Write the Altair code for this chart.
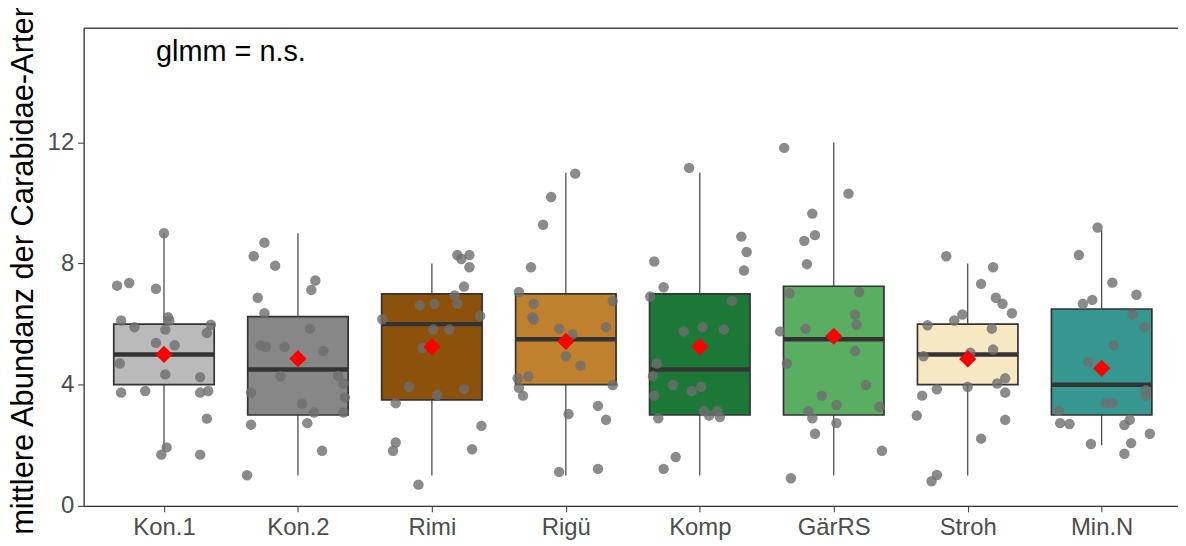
import altair as alt
import pandas as pd

groups = ["Kon.1", "Kon.2", "Rimi", "Rigü", "Komp", "GärRS", "Stroh", "Min.N"]
fills = ["#bababa", "#878787", "#8c510a", "#bf812d", "#1b7837", "#5aae61", "#f6e8c3", "#35978f"]

q1 = [4.0, 3.0, 3.5, 4.0, 3.0, 3.0, 4.0, 3.0]
median = [5.0, 4.5, 6.0, 5.5, 4.5, 5.5, 5.0, 4.0]
q3 = [6.0, 6.25, 7.0, 7.0, 7.0, 7.25, 6.0, 6.5]
whisker_lo = [1.85, 1.0, 1.0, 1.0, 1.0, 1.0, 1.0, 2.0]
whisker_hi = [9.0, 9.0, 8.0, 11.0, 11.0, 12.0, 8.0, 9.1]
means = [5.0, 4.86, 5.25, 5.43, 5.25, 5.6, 4.85, 4.54]

# observed values (y) and their horizontal jitter (in category units)
values_y = {
    "Kon.1": [9.0, 7.27, 7.36, 7.17, 6.12, 5.9, 6.23, 6.12, 5.82, 5.98, 5.71, 5.38, 5.3, 4.7, 4.34, 4.25,
              3.74, 3.79, 3.74, 3.79, 2.88, 1.93, 1.69, 1.69],
    "Kon.2": [8.69, 8.24, 7.93, 7.44, 7.13, 6.87, 6.36, 5.85, 5.3, 5.25, 5.25, 5.11, 4.28, 4.29, 4.04, 3.74,
              3.58, 3.37, 3.08, 3.08, 2.68, 2.73, 1.82, 1.01],
    "Rimi": [8.28, 8.15, 8.28, 7.88, 7.24, 6.95, 6.62, 6.67, 6.67, 6.16, 5.82, 5.82, 5.21, 3.93, 3.66, 3.85,
             3.39, 2.09, 1.82, 1.87, 0.7, 6.27, 2.64],
    "Rigü": [10.97, 10.2, 9.28, 7.88, 7.06, 6.67, 6.76, 6.23, 6.15, 5.9, 5.85, 5.66, 4.94, 4.63, 4.28, 4.21,
             3.9, 3.64, 3.99, 3.03, 3.3, 2.84, 1.12, 1.22],
    "Komp": [11.16, 8.89, 8.38, 7.77, 8.07, 7.22, 6.91, 6.76, 5.76, 5.9, 5.82, 4.7, 4.28, 3.99, 3.79, 3.93,
             3.64, 3.13, 2.98, 3.13, 2.93, 2.89, 1.61, 1.22],
    "GärRS": [11.82, 10.31, 9.65, 8.94, 8.75, 7.98, 7.02, 7.06, 5.76, 5.85, 6.32, 5.98, 5.11, 4.7, 3.64, 3.33,
              3.13, 2.89, 2.73, 2.38, 0.91, 3.99, 3.27, 1.82],
    "Stroh": [8.24, 7.88, 7.33, 6.87, 6.67, 6.36, 6.32, 6.12, 5.96, 5.85, 5.16, 5.06, 4.94, 4.21, 4.04, 3.93,
              3.85, 3.74, 3.64, 2.98, 2.84, 2.22, 1.02, 0.81],
    "Min.N": [9.19, 8.28, 7.37, 6.97, 6.67, 6.8, 6.31, 5.9, 5.3, 4.75, 3.82, 3.63, 3.39, 3.39, 3.14, 2.73,
              2.7, 2.84, 2.67, 2.38, 2.04, 2.07, 1.72],
}
jitter_x = {
    "Kon.1": [0.0, -0.35, -0.26, -0.06, -0.32, -0.22, 0.03, 0.04, 0.01, 0.35, 0.32, -0.06, 0.08, -0.33, 0.01,
              0.27, -0.32, -0.14, 0.27, 0.33, 0.32, 0.02, -0.02, 0.27],
    "Kon.2": [-0.25, -0.33, -0.17, 0.13, 0.10, -0.30, -0.25, 0.09, -0.28, -0.24, -0.10, 0.19, -0.13, 0.30,
              0.34, -0.35, 0.35, 0.03, 0.12, 0.34, -0.35, 0.07, 0.18, -0.38],
    "Rimi": [0.19, 0.22, 0.28, 0.28, 0.24, 0.17, -0.09, 0.02, 0.19, -0.37, 0.01, 0.13, -0.07, -0.17, 0.04,
             0.24, -0.27, -0.27, -0.29, 0.30, -0.10, 0.36, 0.37],
    "Rigü": [0.07, -0.11, -0.17, -0.26, -0.35, -0.24, 0.35, -0.25, -0.24, 0.30, -0.05, 0.05, 0.0, 0.11,
             -0.28, -0.36, -0.35, -0.32, 0.35, 0.02, 0.24, 0.30, -0.05, 0.24],
    "Komp": [-0.08, 0.31, 0.35, 0.33, -0.34, -0.27, -0.37, 0.24, -0.12, 0.02, 0.18, -0.32, -0.35, -0.20,
             -0.06, 0.01, -0.34, 0.03, 0.07, 0.13, 0.15, -0.31, -0.18, -0.27],
    "GärRS": [-0.37, 0.11, -0.16, -0.14, -0.22, -0.20, -0.33, 0.19, -0.40, -0.21, 0.16, 0.17, 0.16, -0.35,
              -0.09, 0.02, -0.19, -0.16, 0.02, -0.14, -0.32, 0.24, 0.34, 0.36],
    "Stroh": [-0.16, 0.19, 0.10, 0.21, 0.26, 0.33, -0.04, -0.10, -0.30, 0.18, 0.19, 0.02, -0.33, 0.28,
              0.22, 0.0, -0.23, 0.28, -0.34, -0.38, 0.28, 0.10, -0.23, -0.27],
    "Min.N": [-0.03, -0.17, 0.08, 0.26, -0.14, -0.07, 0.23, 0.32, 0.09, -0.10, 0.33, 0.33, 0.03, 0.08,
              -0.32, -0.31, -0.24, 0.21, 0.17, 0.36, -0.08, 0.22, 0.17],
}

y_title = "mittlere Abundanz der Carabidae-Arten"
note_text = "glmm = n.s."
note_x = 1.5
note_y = 15.0

box_df = pd.DataFrame({
    "group": groups, "pos": list(range(1, len(groups) + 1)), "fill": fills,
    "q1": q1, "median": median, "q3": q3, "lo": whisker_lo, "hi": whisker_hi, "mean": means,
})
pts_rows = []
for i, g in enumerate(groups):
    for dx, v in zip(jitter_x[g], values_y[g]):
        pts_rows.append({"group": g, "xj": i + 1 + dx, "value": v})
pts_df = pd.DataFrame(pts_rows)
note_df = pd.DataFrame({"x": [note_x], "y": [note_y], "text": [note_text]})

W, H = 1100, 480
label_expr = "[" + ",".join("'" + g + "'" for g in groups) + "][datum.value - 1]"

xscale = alt.Scale(domain=[0.4, 8.57], nice=False, zero=False)
yscale = alt.Scale(domain=[0, 15.77], nice=False, zero=False)

xaxis = alt.Axis(values=list(range(1, len(groups) + 1)), labelExpr=label_expr, title=None, grid=False,
                 labelFontSize=24, labelColor="#4d4d4d", labelFont="Liberation Sans", labelPadding=4,
                 tickSize=6, tickColor="#333333", domainColor="#333333", domainWidth=1.3, labelFlush=False)
yaxis = alt.Axis(values=[0, 4, 8, 12], title=y_title, grid=False, labelFontSize=24, labelColor="#4d4d4d",
                 labelFont="Liberation Sans", labelPadding=4, tickSize=6, tickColor="#333333",
                 domainColor="#333333", domainWidth=1.3, titleFontSize=31, titleFont="Liberation Sans",
                 titleFontWeight="normal", titleColor="#000000", titlePadding=8)

base = alt.Chart(box_df)

whisk_lo_l = base.mark_rule(color="#4d4d4d", strokeWidth=1.3).encode(
    x=alt.X("pos:Q", scale=xscale, axis=xaxis),
    y=alt.Y("lo:Q", scale=yscale, axis=yaxis),
    y2="q1:Q",
)
whisk_hi_l = base.mark_rule(color="#4d4d4d", strokeWidth=1.3).encode(
    x=alt.X("pos:Q", scale=xscale), y=alt.Y("q3:Q", scale=yscale), y2="hi:Q",
)
boxes = base.transform_calculate(xa="datum.pos - 0.375", xb="datum.pos + 0.375").mark_rect(
    stroke="#333333", strokeWidth=1.7
).encode(
    x=alt.X("xa:Q", scale=xscale), x2="xb:Q",
    y=alt.Y("q1:Q", scale=yscale), y2="q3:Q",
    fill=alt.Fill("fill:N", scale=None),
)
med = base.transform_calculate(xa="datum.pos - 0.375", xb="datum.pos + 0.375").mark_rule(
    color="#333333", strokeWidth=4.5
).encode(
    x=alt.X("xa:Q", scale=xscale), x2="xb:Q", y=alt.Y("median:Q", scale=yscale),
)
points = alt.Chart(pts_df).mark_circle(size=110, color="#6e6e6e", opacity=0.8).encode(
    x=alt.X("xj:Q", scale=xscale), y=alt.Y("value:Q", scale=yscale),
)
mean_pts = base.mark_point(shape="diamond", size=300, filled=True, color="#ff0000", opacity=1).encode(
    x=alt.X("pos:Q", scale=xscale), y=alt.Y("mean:Q", scale=yscale),
)
note = alt.Chart(note_df).mark_text(fontSize=29, font="Liberation Sans", color="#000000",
                                    align="center", baseline="middle").encode(
    x=alt.X("x:Q", scale=xscale), y=alt.Y("y:Q", scale=yscale), text="text:N",
)
top_border = alt.Chart(note_df).mark_rule(color="#4d4d4d", strokeWidth=1.5).encode(
    x=alt.value(0), x2=alt.value(W), y=alt.value(0),
)

chart = alt.layer(whisk_lo_l, whisk_hi_l, boxes, med, points, mean_pts, note, top_border).properties(
    width=W, height=H,
    autosize=alt.AutoSizeParams(type="none"),
    padding={"left": 76, "top": 19, "right": 0, "bottom": 38},
).configure_view(stroke=None).configure(background="#ffffff")

chart.save("out.html", embed_options={"renderer": "svg", "actions": False})
